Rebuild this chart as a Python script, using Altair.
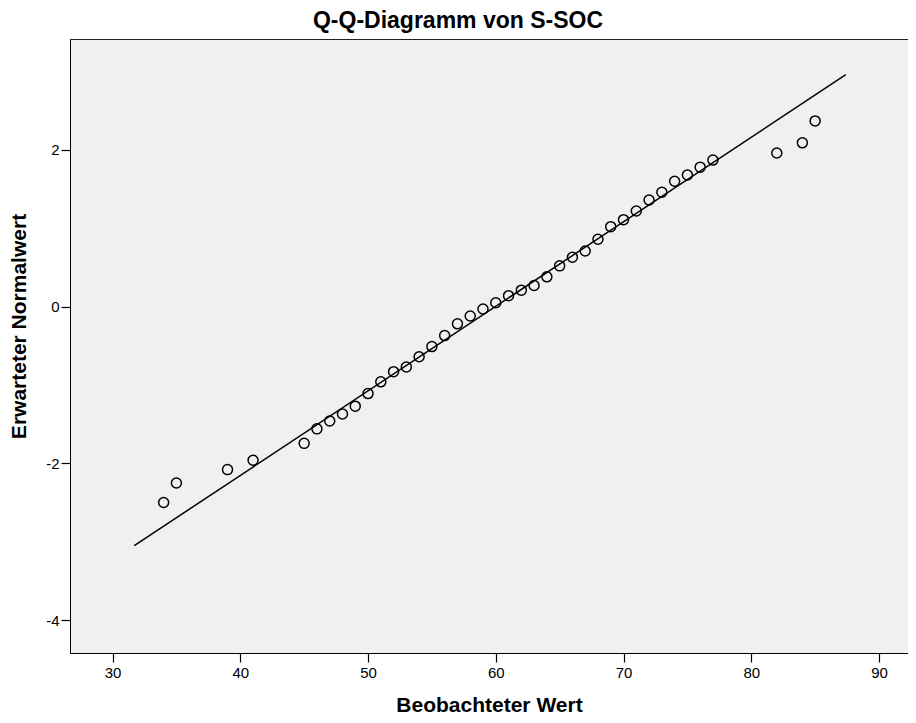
import altair as alt
import pandas as pd

observed = [34, 35, 39, 41, 45, 46, 47, 48, 49, 50, 51, 52, 53, 54, 55, 56, 57, 58,
            59, 60, 61, 62, 63, 64, 65, 66, 67, 68, 69, 70, 71, 72, 73, 74, 75, 76,
            77, 82, 84, 85]
expected = [-2.50, -2.25, -2.08, -1.96, -1.745, -1.56, -1.46, -1.37, -1.27, -1.11,
            -0.96, -0.83, -0.77, -0.64, -0.51, -0.37, -0.22, -0.12, -0.03, 0.05,
            0.14, 0.21, 0.27, 0.38, 0.52, 0.63, 0.71, 0.86, 1.02, 1.11, 1.22, 1.36,
            1.46, 1.60, 1.68, 1.78, 1.87, 1.96, 2.09, 2.37]

# Reference line endpoints
line_x = [31.7, 87.4]
line_y = [-3.05, 2.96]

x_ticks = [30, 40, 50, 60, 70, 80, 90]
y_ticks = [-4, -2, 0, 2]

pts = pd.DataFrame({"obs": observed, "exp": expected})
ln = pd.DataFrame({"obs": line_x, "exp": line_y})

FONT = "Liberation Sans"
LABEL_EXPR = "datum.value < 0 ? '-' + abs(datum.value) : '' + datum.value"

xscale = alt.Scale(domain=[26.67, 92.27], nice=False, zero=False)
yscale = alt.Scale(domain=[-4.42, 3.415], nice=False, zero=False)

xenc = alt.X("obs:Q", scale=xscale,
             axis=alt.Axis(title="Beobachteter Wert", values=x_ticks, labelExpr=LABEL_EXPR,
                           labelPadding=3,
                           titleY=58, titleBaseline="alphabetic"))
yenc = alt.Y("exp:Q", scale=yscale,
             axis=alt.Axis(title="Erwarteter Normalwert", values=y_ticks, labelExpr=LABEL_EXPR,
                           labelPadding=2,
                           titleX=-51, titleY=287, titleAngle=-90,
                           titleBaseline="middle", titleAlign="center"))

line = alt.Chart(ln).mark_line(color="black", strokeWidth=1.5).encode(x=xenc, y=yenc)
points = alt.Chart(pts).mark_point(shape="circle", filled=False, color="black",
                                   size=100, strokeWidth=1.5, opacity=1).encode(x=xenc, y=yenc)

chart = (line + points).properties(
    width=838, height=614,
    autosize=alt.AutoSizeParams(type="none"),
    padding={"left": 62, "top": 31, "right": 0, "bottom": 62},
    background="white",
    title=alt.Title("Q-Q-Diagramm von S-SOC", font=FONT, fontSize=23, fontWeight="bold",
                    color="black", anchor="middle", frame="group", dx=-31, offset=6),
).configure_view(
    fill="#F0F0F0", stroke="#222222", strokeWidth=1
).configure_axis(
    grid=False, domainColor="black", domainWidth=1, tickColor="black", tickWidth=1.2,
    tickSize=9, labelColor="black", labelFont=FONT, labelFontSize=15,
    titleColor="black", titleFont=FONT, titleFontSize=21, titleFontWeight="bold",
)

chart.save("out.html", embed_options={"renderer": "svg", "actions": False})
